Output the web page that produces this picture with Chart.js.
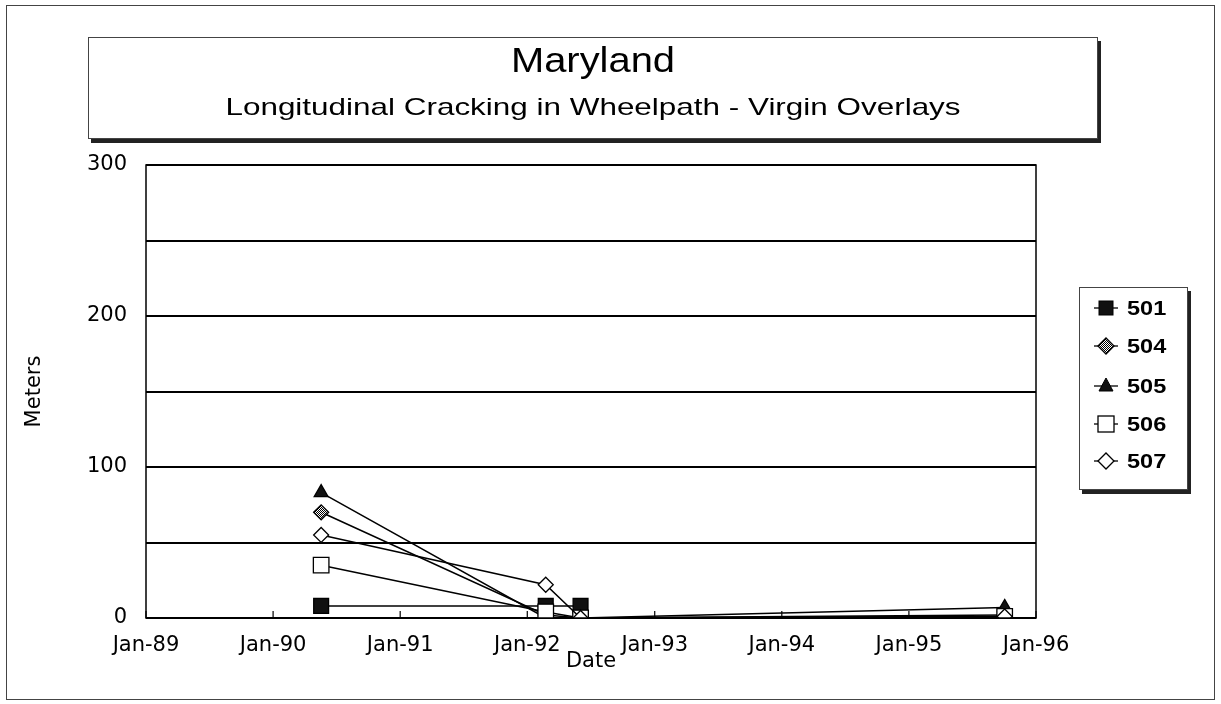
<!DOCTYPE html>
<html>
<head>
<meta charset="utf-8">
<script src="https://cdn.jsdelivr.net/npm/chart.js@4.4.1/dist/chart.umd.min.js"></script>
<style>
  html, body { margin: 0; padding: 0; background: #fff; }
  #wrap { position: relative; width: 1221px; height: 704px; overflow: hidden; font-family: "Liberation Sans", Arial, sans-serif; color: #000; }
  #frame { position: absolute; left: 6px; top: 5px; width: 1207px; height: 693px; border: 1px solid #444; }
  #chart { position: absolute; left: 0; top: 0; }
  #titleBox { position: absolute; left: 88px; top: 37px; width: 1008px; height: 100px; border: 1px solid #444; box-shadow: 3px 4px 0 #222; background: #fff; }
  .ttl { position: absolute; left: 88px; width: 1010px; text-align: center; white-space: nowrap; }
  #title1 { top: 40px; font-size: 35px; line-height: 40px; transform: scaleX(1.14); }
  #title2 { top: 93px; font-size: 24px; line-height: 27px; transform: scaleX(1.31); }
  #legend { position: absolute; left: 1079px; top: 287px; width: 107px; height: 201px; border: 1px solid #444; box-shadow: 3px 4px 0 #222; background: #fff; }
  .item { position: absolute; left: 12px; height: 30px; display: flex; align-items: center; font-weight: bold; font-size: 21px; }
  .item svg { margin-right: 7px; }
  .item span { display: inline-block; transform: scaleX(1.12); transform-origin: left center; }
</style>
</head>
<body>
<div id="wrap">
  <div id="frame"></div>
  <canvas id="chart" width="1221" height="704"></canvas>
  <div id="titleBox"></div>
  <div class="ttl" id="title1">Maryland</div>
  <div class="ttl" id="title2">Longitudinal Cracking in Wheelpath - Virgin Overlays</div>
  <div id="legend"></div>
</div>
<script>
// Survey dates (shared by all sections) and cracking length in meters
const surveyDates = ['1990-05-19', '1992-02-23', '1992-06-02', '1995-10-03'];
const sectionNames = ['501', '504', '505', '506', '507'];
const values501 = [8, 8, 8, null];
const values504 = [70, 2, 0, 2];
const values505 = [83, 0, 0, 7];
const values506 = [35, 4, 0, 1];
const values507 = [55, 22, 0, 1];
const tickYears = [1989, 1990, 1991, 1992, 1993, 1994, 1995, 1996];
const yTicks = [0, 100, 200, 300];

const BASE = Date.UTC(1989, 0, 1);
function dayNum(s) {
    const p = s.split('-').map(Number);
    return (Date.UTC(p[0], p[1] - 1, p[2]) - BASE) / 86400000;
}

// gray "hatched" fill for the 504 markers
function makePattern() {
    const c = document.createElement('canvas');
    c.width = 2; c.height = 2;
    const g = c.getContext('2d');
    g.fillStyle = '#fff'; g.fillRect(0, 0, 2, 2);
    g.fillStyle = '#000'; g.fillRect(0, 0, 1, 1); g.fillRect(1, 1, 1, 1);
    return g.createPattern(c, 'repeat');
}
const hatch = makePattern();

const styles = {
    '501': { point: 'rect', radius: 10.5, fill: '#111' },
    '504': { point: 'rectRot', radius: 7.5, fill: hatch },
    '505': { point: 'triangle', radius: 8, fill: '#111' },
    '506': { point: 'rect', radius: 11, fill: '#fff' },
    '507': { point: 'rectRot', radius: 7.5, fill: '#fff' }
};
const seriesValues = { '501': values501, '504': values504, '505': values505, '506': values506, '507': values507 };

const datasets = sectionNames.map(name => ({
    label: name,
    data: surveyDates.map((d, i) => ({ x: dayNum(d), y: seriesValues[name][i] })).filter(p => p.y !== null),
    borderColor: '#000',
    borderWidth: 1.5,
    pointStyle: styles[name].point,
    pointRadius: styles[name].radius,
    pointBackgroundColor: styles[name].fill,
    pointBorderColor: '#000',
    pointBorderWidth: 1.3,
    tension: 0,
    fill: false
}));
// draw 501 last so it sits on top like in the original
datasets.reverse();

const tickFont = { family: 'DejaVu Sans', size: 21 };

// frame round the plot and small inward tick marks on the date axis
const framePlugin = {
    id: 'framePlugin',
    afterDatasetsDraw(chart) {
        const { ctx, chartArea: a, scales } = chart;
        ctx.save();
        ctx.strokeStyle = '#000';
        ctx.lineWidth = 1.5;
        ctx.strokeRect(a.left, a.top, a.right - a.left, a.bottom - a.top);
        ctx.lineWidth = 1.2;
        scales.x.ticks.forEach(t => {
            const px = scales.x.getPixelForValue(t.value);
            ctx.beginPath();
            ctx.moveTo(px, a.bottom);
            ctx.lineTo(px, a.bottom - 7);
            ctx.stroke();
        });
        ctx.restore();
    }
};

new Chart(document.getElementById('chart'), {
    type: 'line',
    data: { datasets: datasets },
    options: {
        responsive: false,
        animation: false,
        layout: { padding: { left: 0, top: 165, right: 185, bottom: 0 } },
        plugins: { legend: { display: false }, tooltip: { enabled: false }, title: { display: false } },
        scales: {
            x: {
                type: 'linear',
                min: 0,
                max: dayNum('1996-01-01'),
                afterBuildTicks: s => { s.ticks = tickYears.map(y => ({ value: dayNum(y + '-01-01') })); },
                afterFit: s => { s.height = 86; },
                grid: { display: false },
                border: { display: false },
                ticks: {
                    color: '#000',
                    font: tickFont,
                    padding: 7,
                    maxRotation: 0,
                    autoSkip: false,
                    callback: v => 'Jan-' + String(new Date(BASE + v * 86400000).getUTCFullYear()).slice(2)
                },
                title: { display: true, text: 'Date', color: '#000', font: tickFont, padding: { top: 0, bottom: 30 } }
            },
            y: {
                min: 0,
                max: 300,
                afterFit: s => { s.width = 146; },
                grid: { color: '#000', lineWidth: 2, drawTicks: false },
                border: { display: false },
                ticks: {
                    stepSize: 50,
                    color: '#000',
                    font: tickFont,
                    padding: 19,
                    callback: v => yTicks.includes(v) ? String(v) : ''
                },
                title: { display: true, text: 'Meters', color: '#000', font: tickFont, padding: { top: 22, bottom: 0 } }
            }
        }
    },
    plugins: [framePlugin]
});

// legend with marker + line through it
function markerSvg(name) {
    let shape = '';
    if (name === '501') shape = '<rect x="7" y="5" width="14" height="14" fill="#111" stroke="#000"/>';
    if (name === '506') shape = '<rect x="6" y="4" width="16" height="16" fill="#fff" stroke="#000" stroke-width="1.3"/>';
    if (name === '504') shape = '<polygon points="6,12 14,4 22,12 14,20" fill="url(#h504)" stroke="#000" stroke-width="1.3"/>';
    if (name === '507') shape = '<polygon points="6,12 14,4 22,12 14,20" fill="#fff" stroke="#000" stroke-width="1.3"/>';
    if (name === '505') shape = '<polygon points="14,4 21,17 7,17" fill="#111" stroke="#000"/>';
    return '<svg width="28" height="24" viewBox="0 0 28 24">' +
        '<defs><pattern id="h504" width="2" height="2" patternUnits="userSpaceOnUse"><rect width="2" height="2" fill="#fff"/><rect width="1" height="1" fill="#000"/><rect x="1" y="1" width="1" height="1" fill="#000"/></pattern></defs>' +
        '<line x1="2" y1="12" x2="26" y2="12" stroke="#000" stroke-width="1.3"/>' + shape + '</svg>';
}
const legendEl = document.getElementById('legend');
const legendRows = [5, 43, 83, 121, 158];
sectionNames.forEach((name, i) => {
    const d = document.createElement('div');
    d.className = 'item';
    d.style.top = legendRows[i] + 'px';
    d.innerHTML = markerSvg(name) + '<span>' + name + '</span>';
    legendEl.appendChild(d);
});
</script>
</body>
</html>
